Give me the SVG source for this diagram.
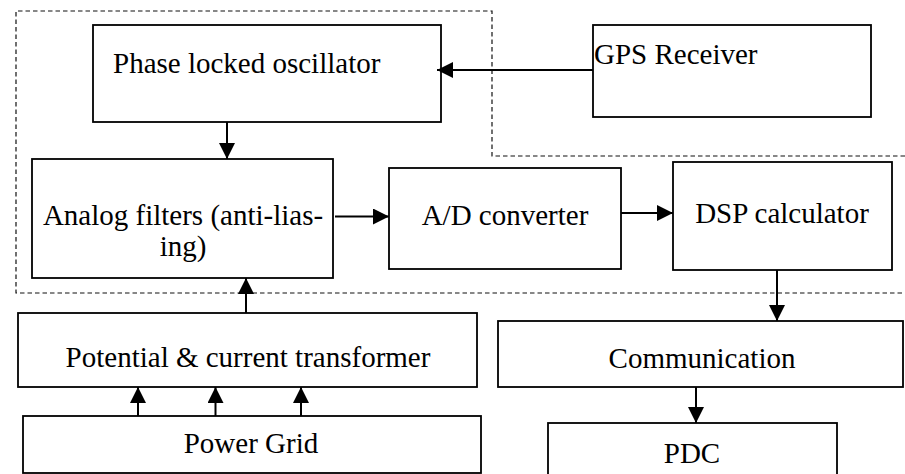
<svg xmlns="http://www.w3.org/2000/svg" width="905" height="474" viewBox="0 0 905 474">
<style>
.box{fill:#fff;stroke:#000;stroke-width:1.8}
.t{font-family:"Liberation Serif","Times New Roman",serif;font-size:29px;fill:#000}
.c{text-anchor:middle}
.con{stroke:#000;stroke-width:2;fill:none;marker-end:url(#ah)}
.dash{stroke:#111;stroke-width:1.2;fill:none;stroke-dasharray:4.5 3}
</style>
<defs>
<marker id="ah" markerUnits="userSpaceOnUse" markerWidth="18" markerHeight="18" refX="16" refY="8" orient="auto">
<path d="M0,0 L16,8 L0,16 Z" fill="#000"/>
</marker>
</defs>
<g id="boundary">
<path class="dash" d="M905,156 H492 V11 H16 V293 H905"/>
</g>
<g id="pll"><rect class="box" x="93" y="25" width="348" height="97"/><text class="t" x="113" y="73">Phase locked oscillator</text></g>
<g id="gps"><rect class="box" x="593" y="25" width="278" height="92"/><text class="t" x="594" y="64">GPS Receiver</text></g>
<g id="filters"><rect class="box" x="32" y="159" width="301" height="119"/><text class="t c" x="183" y="225">Analog filters (anti-lias-</text><text class="t c" x="183" y="256">ing)</text></g>
<g id="adc"><rect class="box" x="389" y="168" width="232" height="101"/><text class="t c" x="505" y="225">A/D converter</text></g>
<g id="dsp"><rect class="box" x="673" y="162" width="219" height="108"/><text class="t c" x="782" y="223">DSP calculator</text></g>
<g id="pct"><rect class="box" x="18" y="313" width="459" height="74"/><text class="t c" x="248" y="367">Potential &amp; current transformer</text></g>
<g id="grid"><rect class="box" x="23" y="416" width="458" height="57"/><text class="t c" x="251" y="453">Power Grid</text></g>
<g id="comm"><rect class="box" x="498" y="321" width="405" height="66"/><text class="t c" x="702" y="368">Communication</text></g>
<g id="pdc"><rect class="box" x="548" y="423" width="289" height="60"/><text class="t c" x="692" y="463">PDC</text></g>
<g id="connectors">
<line class="con" x1="593" y1="70" x2="437" y2="70"/>
<line class="con" x1="227" y1="122" x2="227" y2="159"/>
<line class="con" x1="335" y1="216.5" x2="389" y2="216.5"/>
<line class="con" x1="621" y1="213" x2="673" y2="213"/>
<line class="con" x1="777" y1="270" x2="777" y2="321"/>
<line class="con" x1="696" y1="387" x2="696" y2="423"/>
<line class="con" x1="246" y1="313" x2="246" y2="278"/>
<line class="con" x1="138" y1="416" x2="138" y2="387"/>
<line class="con" x1="215.5" y1="416" x2="215.5" y2="387"/>
<line class="con" x1="301" y1="416" x2="301" y2="387"/>
</g>
</svg>
